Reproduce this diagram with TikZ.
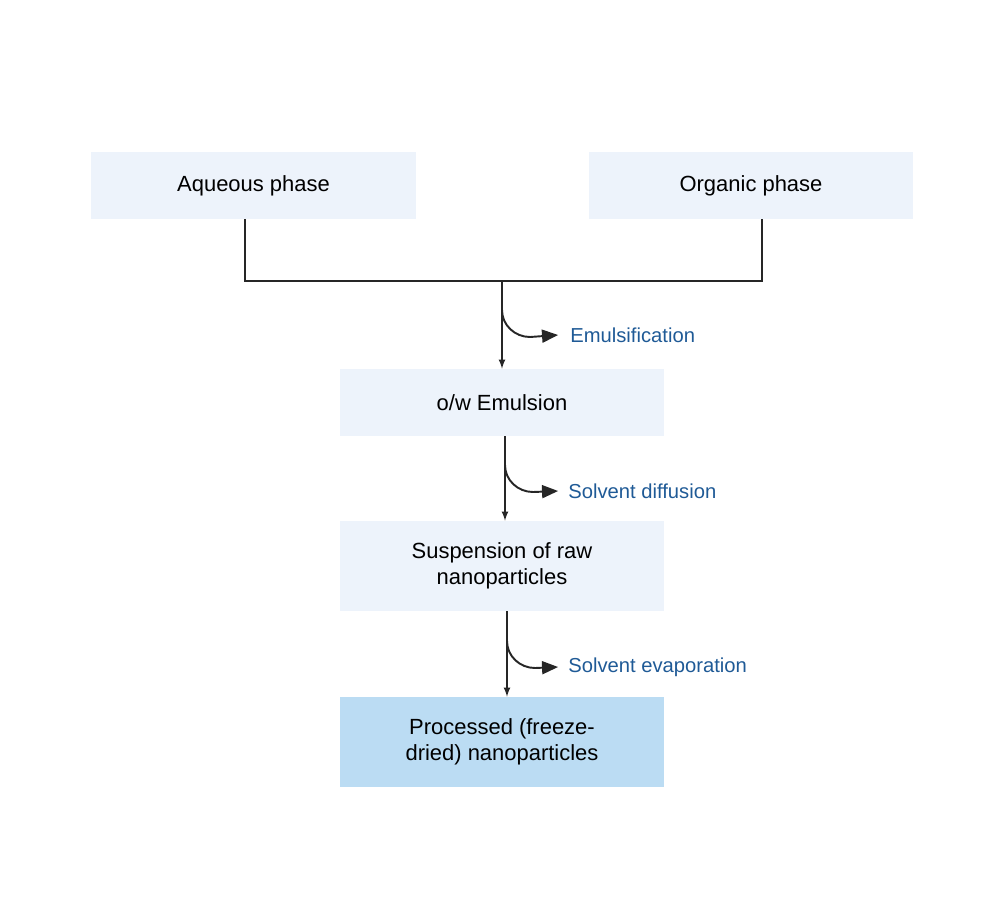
\documentclass[tikz,border=0pt]{standalone}
\usepackage{fontspec}
\setmainfont{Liberation Sans}
\usepackage{tikz}
\usetikzlibrary{shapes,arrows,positioning}
\definecolor{boxfill}{HTML}{EDF3FB}
\definecolor{boxdark}{HTML}{BBDCF3}
\definecolor{steptext}{HTML}{1F5A96}
\tikzstyle{phasebox} = [rectangle, fill=boxfill, minimum width=6.5cm, minimum height=1.34cm, align=center, font=\fontsize{12.5}{15}\selectfont, inner sep=2pt]
\tikzstyle{stepbox} = [phasebox, minimum height=1.8cm]
\tikzstyle{steplabel} = [anchor=west, text=steptext, font=\fontsize{11.5}{14}\selectfont, inner sep=0pt]
\tikzstyle{flow} = [draw=black!85, thick, -latex]
\tikzstyle{branch} = [draw=black!85, line width=1.1pt, -triangle 45]

\begin{document}
\begin{tikzpicture}[x=0.02cm,y=-0.02cm]
\useasboundingbox (0,0) rectangle (1000,917);
% input phases
\node [phasebox] (aqueous) at (253.5,185.5) {Aqueous phase};
\node [phasebox] (organic) at (751,185.5) {Organic phase};
% process chain
\node [phasebox] (emulsion) at (502,402.5) {o/w Emulsion};
\node [stepbox] (suspension) at (502,566) {Suspension of raw\\nanoparticles};
\node [stepbox, fill=boxdark] (processed) at (502,742) {Processed (freeze-\\dried) nanoparticles};
% joining lines
\coordinate (aqdown) at (245,281);
\coordinate (orgdown) at (762,281);
\coordinate (join) at (502,281);
\draw [black!85, thick] (aqueous.south -| aqdown) -- (aqdown) -- (orgdown) -- (organic.south -| orgdown);
\draw [flow] (join) -- (emulsion.north);
\draw [flow] ([xshift=3*0.02cm]emulsion.south) -- ([xshift=3*0.02cm]suspension.north);
\draw [flow] ([xshift=5*0.02cm]suspension.south) -- ([xshift=5*0.02cm]processed.north);
% side steps
\node [steplabel] (emulsify) at (570,335) {Emulsification};
\node [steplabel] (diffuse) at (568,491) {Solvent diffusion};
\node [steplabel] (evaporate) at (568,667) {Solvent evaporation};
\draw [branch] (502,310) to[out=-90,in=180] (530,337) -- ([xshift=-12*0.02cm]emulsify.west);
\draw [branch] (505,465) to[out=-90,in=180] (533,492) -- ([xshift=-10*0.02cm]diffuse.west);
\draw [branch] (507,641) to[out=-90,in=180] (535,668) -- ([xshift=-10*0.02cm]evaporate.west);
\end{tikzpicture}
\end{document}
